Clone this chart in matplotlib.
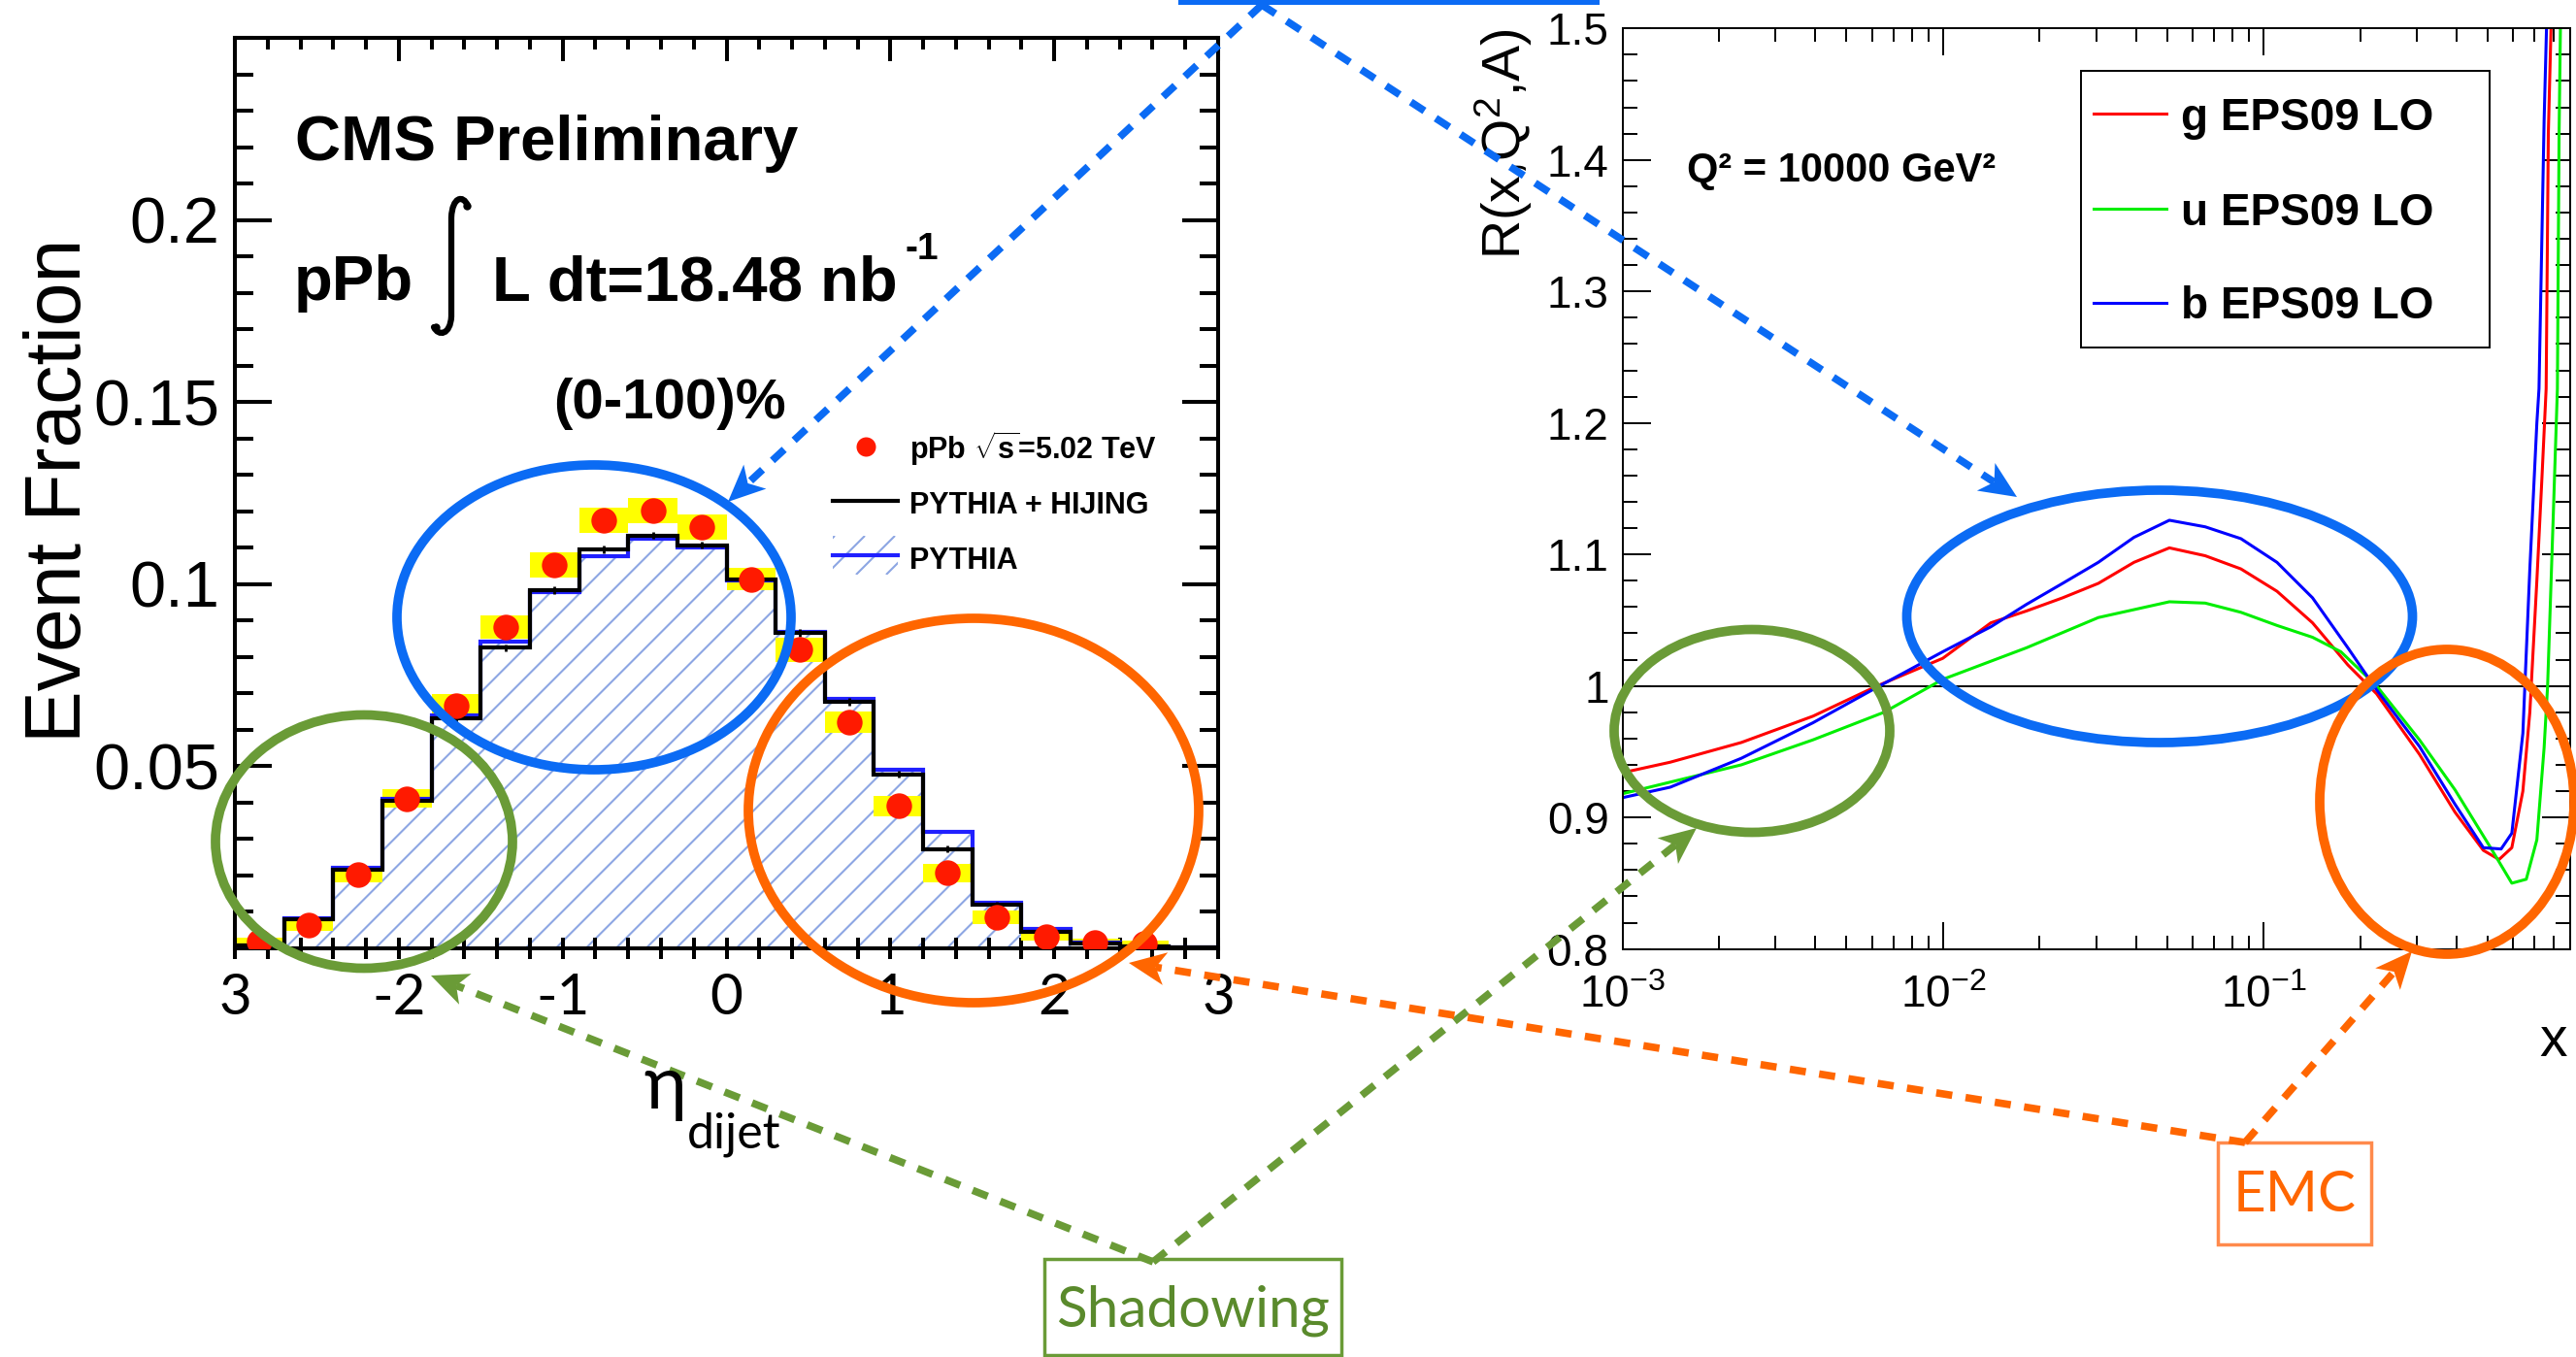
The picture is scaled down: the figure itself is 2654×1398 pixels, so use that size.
import numpy as np
import matplotlib
matplotlib.use("Agg")
import matplotlib.pyplot as plt
from matplotlib.patches import Ellipse, Rectangle, Polygon, PathPatch
from matplotlib.path import Path
from matplotlib.collections import LineCollection
from matplotlib.ticker import (MultipleLocator, FixedLocator, FixedFormatter,
                               LogLocator, NullFormatter, FuncFormatter)

W, H, DPI = 2654, 1398, 100

plt.rcParams["font.family"] = ["Liberation Sans", "DejaVu Sans"]
plt.rcParams["mathtext.fontset"] = "custom"
plt.rcParams["mathtext.rm"] = "Liberation Sans"
plt.rcParams["mathtext.it"] = "Liberation Sans:italic"
plt.rcParams["mathtext.bf"] = "Liberation Sans:bold"
plt.rcParams["lines.scale_dashes"] = False

# ---------------- dijet pseudorapidity (CMS pPb) ----------------
eta_edges = [-3.0, -2.7, -2.4, -2.1, -1.8, -1.5, -1.2, -0.9, -0.6, -0.3, 0.0,
             0.3, 0.6, 0.9, 1.2, 1.5, 1.8, 2.1, 2.4, 2.7, 3.0]
eta_centers = [-2.85, -2.55, -2.25, -1.95, -1.65, -1.35, -1.05, -0.75, -0.45, -0.15,
               0.15, 0.45, 0.75, 1.05, 1.35, 1.65, 1.95, 2.25, 2.55, 2.85]
# last bin has no measured point
ppb_data = [0.0018, 0.0064, 0.0202, 0.0411, 0.0667, 0.0882, 0.1052, 0.1175, 0.1203, 0.1157,
            0.1014, 0.0820, 0.0621, 0.0391, 0.0207, 0.0085, 0.0033, 0.0017, 0.0012, np.nan]
ppb_sys = [0.0010, 0.0015, 0.0020, 0.0025, 0.0030, 0.0033, 0.0035, 0.0035, 0.0035, 0.0035,
           0.0030, 0.0033, 0.0030, 0.0028, 0.0025, 0.0018, 0.0012, 0.0010, 0.0008, 0.0]
pythia_hijing = [0.0008, 0.0081, 0.0217, 0.0406, 0.0631, 0.0825, 0.0984, 0.1096, 0.1134, 0.1107,
                 0.1014, 0.0866, 0.0677, 0.0478, 0.0273, 0.0120, 0.0044, 0.0013, 0.0005, 0.0002]
pythia = [0.0008, 0.0083, 0.0220, 0.0410, 0.0640, 0.0843, 0.0978, 0.1076, 0.1125, 0.1100,
          0.1010, 0.0870, 0.0685, 0.0490, 0.0320, 0.0125, 0.0052, 0.0016, 0.0006, 0.0003]
mc_err = [0.0003, 0.0006, 0.0008, 0.0010, 0.0010, 0.0010, 0.0010, 0.0010, 0.0010, 0.0010,
          0.0010, 0.0010, 0.0010, 0.0010, 0.0010, 0.0008, 0.0006, 0.0004, 0.0003, 0.0002]
eta_ticks = [-3, -2, -1, 0, 1, 2, 3]
eta_ticklabels = ["3", "-2", "-1", "0", "1", "2", "3"]
frac_ticks = [0.05, 0.1, 0.15, 0.2]
frac_ticklabels = ["0.05", "0.1", "0.15", "0.2"]

# ---------------- EPS09 LO nuclear modification, Q^2 = 10000 GeV^2 ----------------
x_g = [0.001, 0.00141, 0.00235, 0.00393, 0.00623, 0.00998, 0.0141, 0.0182, 0.0236, 0.0305,
       0.0394, 0.0508, 0.0657, 0.0849, 0.110, 0.142, 0.183, 0.225, 0.306, 0.395,
       0.484, 0.542, 0.594, 0.643, 0.676, 0.711, 0.738, 0.760, 0.772, 0.787]
R_g = [0.934, 0.942, 0.957, 0.977, 1.000, 1.021, 1.048, 1.057, 1.067, 1.078,
       1.094, 1.105, 1.099, 1.089, 1.072, 1.048, 1.016, 0.994, 0.948, 0.904,
       0.875, 0.868, 0.877, 0.920, 0.980, 1.080, 1.160, 1.226, 1.420, 1.500]
x_u = [0.001, 0.00235, 0.00393, 0.00655, 0.00998, 0.0182, 0.0305, 0.0508, 0.0657, 0.0849,
       0.110, 0.142, 0.174, 0.225, 0.306, 0.395, 0.510, 0.594, 0.659, 0.711,
       0.749, 0.768, 0.800, 0.824, 0.834, 0.842]
R_u = [0.918, 0.940, 0.959, 0.980, 1.005, 1.029, 1.052, 1.064, 1.063, 1.056,
       1.046, 1.037, 1.026, 1.000, 0.959, 0.921, 0.877, 0.850, 0.853, 0.883,
       0.953, 1.000, 1.130, 1.226, 1.420, 1.500]
x_b = [0.001, 0.00141, 0.00235, 0.00393, 0.00623, 0.00998, 0.0141, 0.0182, 0.0236, 0.0305,
       0.0394, 0.0508, 0.0657, 0.0849, 0.110, 0.142, 0.183, 0.225, 0.306, 0.395,
       0.484, 0.550, 0.594, 0.643, 0.676, 0.711, 0.722, 0.749, 0.762]
R_b = [0.915, 0.923, 0.945, 0.972, 0.999, 1.026, 1.045, 1.062, 1.078, 1.094,
       1.113, 1.126, 1.121, 1.112, 1.094, 1.067, 1.029, 0.997, 0.954, 0.910,
       0.877, 0.876, 0.888, 0.964, 1.089, 1.200, 1.226, 1.430, 1.500]
flavours = ["g EPS09 LO", "u EPS09 LO", "b EPS09 LO"]
flavour_colors = ["#FF0000", "#00EE00", "#0000FF"]

BLUE = "#0B6BF4"
GREEN = "#6A9B37"
ORANGE = "#FF6600"
HATCH = "#8DA6E3"


def px_box(x0, y0, x1, y1):
    """Axes rectangle from pixel corners (origin top-left)."""
    return [x0 / W, 1 - y1 / H, (x1 - x0) / W, (y1 - y0) / H]


fig = plt.figure(figsize=(W / DPI, H / DPI), dpi=DPI)

# ================= left: event fraction vs eta_dijet =================
L_X0, L_Y0, L_X1, L_Y1 = 242, 39, 1255, 977
axL = fig.add_axes(px_box(L_X0, L_Y0, L_X1, L_Y1))
axL.set_xlim(-3, 3)
axL.set_ylim(0, 0.25)
fill = axL.stairs(pythia, eta_edges, fill=True, facecolor="white", linewidth=0, zorder=1)

# sparse 45-degree hatching clipped to the PYTHIA histogram
px_per_eta = (L_X1 - L_X0) / 6.0
px_per_frac = (L_Y1 - L_Y0) / 0.25
slope = px_per_eta / px_per_frac
step = 31.0 / px_per_eta
segs = [[(c, 0.0), (c + 0.2 / slope, 0.2)] for c in np.arange(-6.0, 3.0, step)]
hatch = LineCollection(segs, colors=HATCH, linewidths=1.5, zorder=1.5)
axL.add_collection(hatch)
hatch.set_clip_path(fill)

axL.bar(eta_centers, [2 * s for s in ppb_sys],
        bottom=[d - s for d, s in zip(ppb_data, ppb_sys)],
        width=0.3, color="#FFFF00", zorder=2)
axL.stairs(pythia, eta_edges, color="#2020FF", lw=3, zorder=3)
axL.stairs(pythia_hijing, eta_edges, color="black", lw=3, zorder=4)
axL.errorbar(eta_centers, pythia_hijing, yerr=mc_err, fmt="none", ecolor="black",
             elinewidth=2, zorder=4)
axL.plot(eta_centers, ppb_data, "o", ms=19, color="#FF1A00", mew=0, zorder=5)

for sp in axL.spines.values():
    sp.set_linewidth(2.9)
axL.yaxis.set_major_locator(FixedLocator(frac_ticks))
axL.yaxis.set_major_formatter(FixedFormatter(frac_ticklabels))
axL.yaxis.set_minor_locator(MultipleLocator(0.01))
axL.tick_params(axis="y", which="both", direction="in", left=True, right=True,
                width=2.9, labelsize=48, pad=11)
axL.tick_params(axis="y", which="major", length=27)
axL.tick_params(axis="y", which="minor", length=14)
axL.xaxis.set_major_locator(FixedLocator(eta_ticks))
axL.xaxis.set_major_formatter(FixedFormatter(eta_ticklabels))
axL.xaxis.set_minor_locator(MultipleLocator(0.2))
axL.tick_params(axis="x", which="both", direction="inout", length=16, width=2.9,
                top=False, bottom=True, labelsize=42, pad=10)
for lab in axL.get_xticklabels():
    lab.set_family(["Lato", "DejaVu Sans"])
secL = axL.secondary_xaxis("top")
secL.xaxis.set_major_locator(MultipleLocator(1))
secL.xaxis.set_minor_locator(MultipleLocator(0.2))
secL.tick_params(axis="x", which="major", direction="in", length=17, width=2.9, labeltop=False)
secL.tick_params(axis="x", which="minor", direction="in", length=8.6, width=2.9)
secL.spines["top"].set_linewidth(2.9)

axL.set_ylabel("Event Fraction", fontsize=58)
axL.yaxis.label.set_va("baseline")
axL.yaxis.set_label_coords((83 - L_X0) / (L_X1 - L_X0), (L_Y1 - 505) / (L_Y1 - L_Y0))

# ================= right: R(x,Q2,A) =================
axR = fig.add_axes(px_box(1671.5, 29.3, 2647.5, 977.6))
axR.set_xscale("log")
axR.set_xlim(1e-3, 0.9)
axR.set_ylim(0.8, 1.5)
axR.axhline(1.0, color="black", lw=1.4, zorder=1)
for xs, rs, c in zip([x_g, x_u, x_b], [R_g, R_u, R_b], flavour_colors):
    axR.plot(xs, rs, color=c, lw=2.2, zorder=2)
for sp in axR.spines.values():
    sp.set_linewidth(1.4)
axR.yaxis.set_major_locator(MultipleLocator(0.1))
axR.yaxis.set_minor_locator(MultipleLocator(0.02))
axR.yaxis.set_major_formatter(FuncFormatter(lambda v, p: "%g" % round(v, 2)))
axR.xaxis.set_major_locator(LogLocator(base=10))
axR.xaxis.set_minor_locator(LogLocator(base=10, subs=np.arange(2, 10)))
axR.xaxis.set_minor_formatter(NullFormatter())
axR.tick_params(which="both", direction="in", top=True, right=True, width=1.4)
axR.tick_params(axis="y", which="major", length=21, labelsize=33, pad=10)
axR.tick_params(axis="y", which="minor", length=11)
axR.tick_params(axis="x", which="major", length=20, labelsize=33, pad=19)
axR.tick_params(axis="x", which="minor", length=10)

axR.set_xlabel("x", fontsize=41, loc="right")
axR.xaxis.label.set_va("baseline")
axR.xaxis.set_label_coords((2645 - 1671.5) / 976, (977.6 - 1088) / 948.3)
axR.set_ylabel(r"R(x,Q$^{2}$,A)", fontsize=40, loc="top")
axR.yaxis.label.set_va("baseline")
axR.yaxis.set_label_coords((1567 - 1671.5) / 976, 1.0)

# ================= annotation layer (pixel coordinates) =================
ov = fig.add_axes([0, 0, 1, 1], zorder=10)
ov.set_xlim(0, W)
ov.set_ylim(H, 0)
ov.axis("off")
ov.patch.set_visible(False)

# CMS panel texts
ov.text(304, 165, "CMS Preliminary", fontsize=47, fontweight="bold", va="baseline")
ov.text(303, 309, "pPb", fontsize=47, fontweight="bold", va="baseline")
integral = Path([(482, 212), (477, 200), (466, 203), (465, 224), (465, 326),
                 (464, 345), (452, 347), (447, 337)],
                [Path.MOVETO, Path.CURVE4, Path.CURVE4, Path.CURVE4, Path.LINETO,
                 Path.CURVE4, Path.CURVE4, Path.CURVE4])
ov.add_patch(PathPatch(integral, fill=False, ec="black", lw=4.5, capstyle="round"))
ov.plot([481, 449], [212, 337], "o", ms=6, color="black", mew=0)
ov.text(507, 309, "L dt=18.48 nb", fontsize=47, fontweight="bold", va="baseline")
ov.text(933, 267, "-1", fontsize=28, fontweight="bold", va="baseline")
ov.text(690, 431, "(0-100)%", fontsize=42, fontweight="bold", ha="center", va="baseline")

# CMS panel legend
ov.plot([892], [460], "o", ms=14.4, color="#FF1A00", mew=0)
ov.text(937, 473, r"pPb $\sqrt{\mathbf{s}}$=5.02 TeV", fontsize=22, fontweight="bold",
        va="baseline")
ov.plot([858, 925], [516, 516], color="black", lw=3)
ov.text(937, 529, "PYTHIA + HIJING", fontsize=22, fontweight="bold", va="baseline")
key = Rectangle((858, 552), 67, 40, facecolor="white", lw=0)
ov.add_patch(key)
key_hatch = LineCollection([[(c, 592), (c + 40, 552)] for c in np.arange(820, 930, 31)],
                           colors=HATCH, linewidths=1.5)
ov.add_collection(key_hatch)
key_hatch.set_clip_path(key)
ov.plot([858, 925], [572, 572], color="#2020FF", lw=3)
ov.text(937, 586, "PYTHIA", fontsize=22, fontweight="bold", va="baseline")

# eta_dijet axis title
ov.text(663, 1142, "\u03b7", fontsize=54, family=["Lato", "DejaVu Sans"], va="baseline")
ov.text(708, 1183, "dijet", fontsize=36, family=["Lato", "DejaVu Sans"], va="baseline")

# EPS09 legend and Q2 label
ov.add_patch(Rectangle((2144, 72.6), 421, 285.4, fill=False, ec="black", lw=1.4))
for yy, name, c in zip([117, 215, 312], flavours, flavour_colors):
    ov.plot([2157, 2232], [yy, yy], color=c, lw=2.2)
    ov.text(2247, yy + 16.5, name, fontsize=33, fontweight="bold", va="baseline")
ov.text(1738, 187, "Q\u00b2 = 10000 GeV\u00b2", fontsize=30, fontweight="bold", va="baseline")

# highlighted regions
for (cx, cy, w, h, c) in [(612, 636, 406, 314, BLUE), (375, 867, 306, 261, GREEN),
                          (1003, 835, 464, 396, ORANGE), (1805, 753, 284, 209, GREEN),
                          (2225, 635, 521, 260, BLUE), (2521, 826, 262, 314, ORANGE)]:
    ov.add_patch(Ellipse((cx, cy), w, h, fill=False, ec=c, lw=7))

ov.add_patch(Rectangle((1214, -6), 434, 11, color=BLUE, lw=0))


def dashed_arrow(start, tip, color):
    s = np.array(start, float)
    t = np.array(tip, float)
    u = (t - s) / np.hypot(*(t - s))
    n = np.array([-u[1], u[0]])
    head_len, half_w, notch = 38.0, 17.0, 10.0
    end = t - (head_len - notch) * u
    ov.plot([s[0], end[0]], [s[1], end[1]], color=color, lw=5.5,
            linestyle=(0, (12, 10)), dash_capstyle="butt")
    pts = [t, t - head_len * u + half_w * n, t - (head_len - notch) * u,
           t - head_len * u - half_w * n]
    ov.add_patch(Polygon(pts, closed=True, color=color, lw=0))


dashed_arrow((1300, 5), (750, 517), BLUE)
dashed_arrow((1300, 5), (2078, 512), BLUE)
dashed_arrow((1188, 1300), (444, 1005), GREEN)
dashed_arrow((1188, 1300), (1748, 853), GREEN)
dashed_arrow((2313, 1177), (1163, 992), ORANGE)
dashed_arrow((2313, 1177), (2485, 980), ORANGE)

# mechanism labels
ov.add_patch(Rectangle((1076, 1297), 306, 99, fill=False, ec=GREEN, lw=2.5))
ov.text(1229, 1350, "Shadowing", fontsize=42, color="#5A8A2C", ha="center", va="center",
        family=["Lato", "DejaVu Sans"])
ov.add_patch(Rectangle((2285, 1177), 158, 105, fill=False, ec="#FF8A4C", lw=2.5))
ov.text(2364, 1232, "EMC", fontsize=42, color=ORANGE, ha="center", va="center",
        family=["Lato", "DejaVu Sans"])

fig.savefig("out.png", dpi=DPI)
